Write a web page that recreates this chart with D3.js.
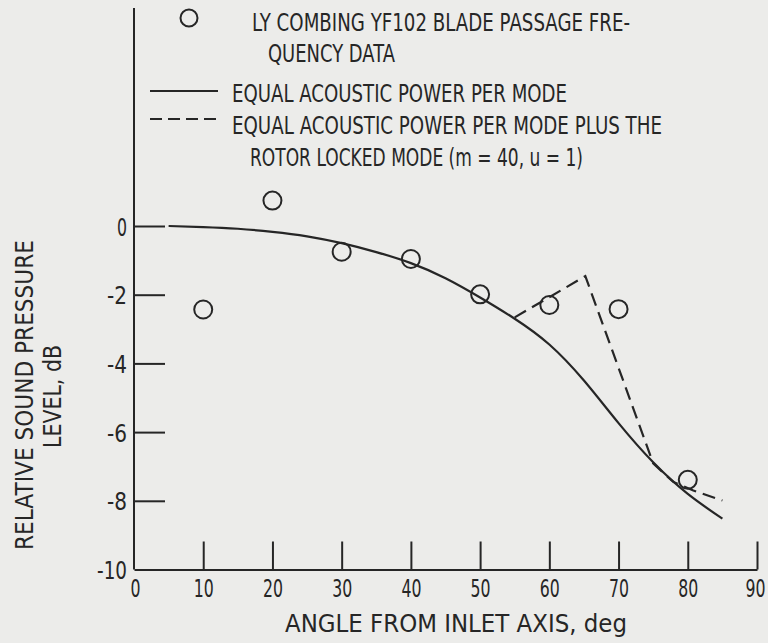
<!DOCTYPE html>
<html>
<head>
<meta charset="utf-8">
<script src="https://cdn.jsdelivr.net/npm/d3@7"></script>
<style>
  html, body { margin: 0; padding: 0; background: #ececea; }
  svg { display: block; }
  text { font-family: "DejaVu Sans", sans-serif; fill: #262626; }
</style>
</head>
<body>
<svg id="chart" width="768" height="643"></svg>
<script>
// ---- data ----
const dataAngles = [10, 20, 30, 40, 50, 60, 70, 80];
const dataLevels = [-2.43, 0.74, -0.75, -0.96, -1.99, -2.30, -2.42, -7.39];

const solidAngles = [5, 10, 15, 20, 25, 30, 35, 40, 45, 50, 55, 60, 65, 70, 75, 80, 85];
const solidLevels = [0, -0.03, -0.08, -0.17, -0.3, -0.5, -0.76, -1.08, -1.52, -2.08, -2.7, -3.45, -4.5, -5.74, -6.88, -7.8, -8.52];

const dashAngles = [55, 65.2, 75, 77.9, 80.8, 85];
const dashLevels = [-2.66, -1.46, -6.91, -7.45, -7.7, -7.99];

const xTicks = [0, 10, 20, 30, 40, 50, 60, 70, 80, 90];
const yTicks = [0, -2, -4, -6, -8, -10];

const legendTexts = [
  "LY COMBING YF102 BLADE PASSAGE FRE-",
  "QUENCY DATA",
  "EQUAL ACOUSTIC POWER PER MODE",
  "EQUAL ACOUSTIC POWER PER MODE PLUS THE",
  "ROTOR LOCKED MODE (m = 40, u = 1)"
];
const xTitle = "ANGLE FROM INLET AXIS, deg";
const yTitle1 = "RELATIVE SOUND PRESSURE";
const yTitle2 = "LEVEL, dB";

// ---- drawing ----
const ink = "#262626";
const svg = d3.select("#chart");
const x = d3.scaleLinear().domain([0, 90]).range([134, 757]);
const y = d3.scaleLinear().domain([-10, 0]).range([569.5, 226]);
const labelLen = s => s.replace("-", "").length * 10 + (s.includes("-") ? 10 : 0);

// y axis
const yAxis = d3.axisLeft(y).tickValues(yTicks).tickSizeInner(-31).tickSizeOuter(0)
  .tickPadding(7).tickFormat(d => String(d));
const gy = svg.append("g").attr("transform", `translate(${x(0)},0)`).call(yAxis);
gy.select(".domain").remove();
gy.selectAll(".tick line").attr("stroke", ink).attr("stroke-width", 2);
gy.selectAll(".tick text").attr("font-size", 25).attr("fill", ink)
  .attr("font-family", null).attr("dy", "0.36em")
  .attr("textLength", d => labelLen(String(d))).attr("lengthAdjust", "spacingAndGlyphs");
gy.selectAll(".tick").filter(d => d === -10).select("line").remove();
svg.append("line").attr("x1", x(0)).attr("x2", x(0)).attr("y1", 8).attr("y2", y(-10))
  .attr("stroke", ink).attr("stroke-width", 2);

// x axis
const xAxis = d3.axisBottom(x).tickValues(xTicks).tickSizeInner(-28).tickSizeOuter(0)
  .tickPadding(10).tickFormat(d => String(d));
const gx = svg.append("g").attr("transform", `translate(0,${y(-10)})`).call(xAxis);
gx.select(".domain").attr("stroke", ink).attr("stroke-width", 2);
gx.selectAll(".tick line").attr("stroke", ink).attr("stroke-width", 2);
gx.selectAll(".tick text").attr("font-size", 25).attr("fill", ink).attr("font-family", null)
  .attr("textLength", d => labelLen(String(d))).attr("lengthAdjust", "spacingAndGlyphs")
  .attr("dx", d => d === 90 ? -2 : (d === 0 ? 1 : 0));
gx.selectAll(".tick").filter(d => d === 0).select("line").remove();

// axis titles
svg.append("text").attr("x", 285).attr("y", 632).attr("font-size", 25)
  .attr("textLength", 342).attr("lengthAdjust", "spacingAndGlyphs").text(xTitle);
svg.append("text").attr("transform", "translate(33,550) rotate(-90)").attr("font-size", 24)
  .attr("textLength", 310).attr("lengthAdjust", "spacingAndGlyphs").text(yTitle1);
svg.append("text").attr("transform", "translate(61,448) rotate(-90)").attr("font-size", 24)
  .attr("textLength", 103).attr("lengthAdjust", "spacingAndGlyphs").text(yTitle2);

// curves
const line = d3.line().x(d => x(d[0])).y(d => y(d[1]));
const solidPts = solidAngles.map((a, i) => [a, solidLevels[i]]);
const dashPts = dashAngles.map((a, i) => [a, dashLevels[i]]);
svg.append("path").datum(solidPts).attr("d", line.curve(d3.curveNatural))
  .attr("fill", "none").attr("stroke", ink).attr("stroke-width", 2.2);
svg.append("path").datum(dashPts).attr("d", line.curve(d3.curveLinear))
  .attr("fill", "none").attr("stroke", ink).attr("stroke-width", 2.2)
  .attr("stroke-dasharray", "13,7");

// data circles
svg.append("g").selectAll("circle").data(dataAngles).join("circle")
  .attr("cx", d => x(d)).attr("cy", (d, i) => y(dataLevels[i])).attr("r", 9)
  .attr("fill", "none").attr("stroke", ink).attr("stroke-width", 2);

// legend
svg.append("circle").attr("cx", 189).attr("cy", 18).attr("r", 8.5)
  .attr("fill", "none").attr("stroke", ink).attr("stroke-width", 2);
svg.append("line").attr("x1", 150).attr("x2", 218).attr("y1", 91).attr("y2", 91)
  .attr("stroke", ink).attr("stroke-width", 2.2);
svg.append("line").attr("x1", 150).attr("x2", 218).attr("y1", 119).attr("y2", 119)
  .attr("stroke", ink).attr("stroke-width", 2.2).attr("stroke-dasharray", "12,6");
const legPos = [[252, 31, 378], [268, 62, 127], [232, 102, 335], [232, 134, 430], [250, 166, 333]];
legendTexts.forEach((t, i) => {
  svg.append("text").attr("x", legPos[i][0]).attr("y", legPos[i][1]).attr("font-size", 24)
    .attr("textLength", legPos[i][2]).attr("lengthAdjust", "spacingAndGlyphs").text(t);
});
</script>
</body>
</html>
